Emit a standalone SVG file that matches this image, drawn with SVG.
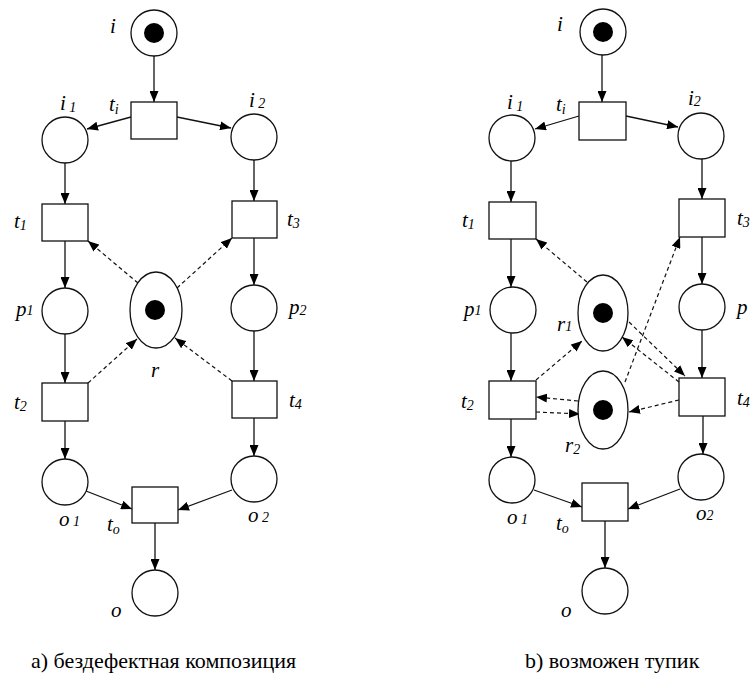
<svg xmlns="http://www.w3.org/2000/svg" width="751" height="680" viewBox="0 0 751 680">
<defs>
<marker id="ah" markerUnits="userSpaceOnUse" markerWidth="11" markerHeight="9" refX="11" refY="4.5" orient="auto" viewBox="0 0 11 9">
<path d="M0,0 L11,4.5 L0,9 z" fill="#000"/>
</marker>
</defs>
<rect width="751" height="680" fill="#fff"/>
<g id="conn-a" stroke="#111" stroke-width="1.3" fill="none" marker-end="url(#ah)">
<line x1="154" y1="56" x2="154" y2="102"/>
<line x1="131" y1="117" x2="87" y2="129"/>
<line x1="177" y1="117" x2="231" y2="128"/>
<line x1="65" y1="163" x2="65" y2="204"/>
<line x1="254" y1="160" x2="254" y2="201"/>
<line x1="65" y1="241" x2="65" y2="288"/>
<line x1="254" y1="238" x2="254" y2="285"/>
<line x1="65" y1="334" x2="65" y2="383"/>
<line x1="254" y1="331" x2="254" y2="381"/>
<line x1="65" y1="421" x2="65" y2="459"/>
<line x1="254" y1="418" x2="254" y2="456"/>
<line x1="86" y1="491" x2="132" y2="509"/>
<line x1="232" y1="490" x2="178" y2="510"/>
<line x1="155" y1="523" x2="155" y2="570"/>
<g stroke-width="1.2" stroke-dasharray="4 3">
<line x1="138" y1="283" x2="88" y2="241"/>
<line x1="177" y1="288" x2="232" y2="238"/>
<line x1="88" y1="383" x2="137" y2="339"/>
<line x1="232" y1="381" x2="175" y2="338"/>
</g>
</g>
<g id="conn-b" stroke="#111" stroke-width="1.3" fill="none" marker-end="url(#ah)">
<line x1="602" y1="55" x2="602" y2="102"/>
<line x1="579" y1="116" x2="535" y2="129"/>
<line x1="626" y1="116" x2="678" y2="127"/>
<line x1="511" y1="161" x2="511" y2="202"/>
<line x1="702" y1="159" x2="702" y2="199"/>
<line x1="511" y1="239" x2="511" y2="287"/>
<line x1="702" y1="237" x2="702" y2="284"/>
<line x1="511" y1="333" x2="511" y2="381"/>
<line x1="702" y1="330" x2="702" y2="378"/>
<line x1="511" y1="419" x2="511" y2="457"/>
<line x1="703" y1="416" x2="703" y2="454"/>
<line x1="534" y1="490" x2="582" y2="507"/>
<line x1="680" y1="489" x2="628" y2="509"/>
<line x1="605" y1="521" x2="605" y2="568"/>
<g stroke-width="1.2" stroke-dasharray="4 3">
<line x1="587" y1="282" x2="536" y2="239"/>
<line x1="625" y1="382" x2="680" y2="237"/>
<line x1="536" y1="380" x2="582" y2="341"/>
<line x1="629" y1="322" x2="685" y2="376"/>
<line x1="679" y1="382" x2="622" y2="337"/>
<line x1="578" y1="401" x2="536" y2="397"/>
<line x1="536" y1="412" x2="580" y2="414"/>
<line x1="679" y1="400" x2="629" y2="412"/>
</g>
</g>
<g fill="#fff" stroke="#111" stroke-width="1.3" font-family="Liberation Serif" font-style="italic" font-size="21">
<g id="a-i"><circle cx="154" cy="33" r="23"/><circle cx="154" cy="33" r="10" fill="#000" stroke="none"/><text x="110" y="33" fill="#000" stroke="none">i</text></g>
<g id="a-ti"><rect x="131" y="102" width="46" height="37"/><text x="109" y="111" fill="#000" stroke="none">t<tspan font-size="14" dy="3">i</tspan></text></g>
<g id="a-i1"><circle cx="65" cy="140" r="23"/><text x="60" y="110" fill="#000" stroke="none">i<tspan font-size="14" dy="2"> 1</tspan></text></g>
<g id="a-i2"><circle cx="254" cy="137" r="23"/><text x="249" y="107" fill="#000" stroke="none">i<tspan font-size="14" dy="1"> 2</tspan></text></g>
<g id="a-t1"><rect x="42" y="204" width="46" height="37"/><text x="14" y="228" fill="#000" stroke="none">t<tspan font-size="14" dy="2">1</tspan></text></g>
<g id="a-t3"><rect x="232" y="201" width="45" height="37"/><text x="287" y="226" fill="#000" stroke="none">t<tspan font-size="14" dy="2">3</tspan></text></g>
<g id="a-p1"><circle cx="65" cy="311" r="23"/><text x="16" y="316" fill="#000" stroke="none">p<tspan font-size="14" dy="-1">1</tspan></text></g>
<g id="a-r"><ellipse cx="156" cy="310" rx="26" ry="38"/><circle cx="155" cy="310" r="10" fill="#000" stroke="none"/><text x="151" y="377" fill="#000" stroke="none">r</text></g>
<g id="a-p2"><circle cx="254" cy="308" r="23"/><text x="289" y="314" fill="#000" stroke="none">p<tspan font-size="14" dy="1">2</tspan></text></g>
<g id="a-t2"><rect x="42" y="383" width="46" height="38"/><text x="14" y="409" fill="#000" stroke="none">t<tspan font-size="14" dy="2">2</tspan></text></g>
<g id="a-t4"><rect x="232" y="381" width="45" height="37"/><text x="289" y="407" fill="#000" stroke="none">t<tspan font-size="14" dy="2">4</tspan></text></g>
<g id="a-o1"><circle cx="65" cy="482" r="23"/><text x="59" y="526" fill="#000" stroke="none">o<tspan font-size="14"> 1</tspan></text></g>
<g id="a-o2"><circle cx="254" cy="479" r="23"/><text x="248" y="522" fill="#000" stroke="none">o<tspan font-size="14"> 2</tspan></text></g>
<g id="a-to"><rect x="132" y="487" width="46" height="36"/><text x="107" y="531" fill="#000" stroke="none">t<tspan font-size="14" dy="3">o</tspan></text></g>
<g id="a-o"><circle cx="155" cy="593" r="23"/><text x="111" y="617" fill="#000" stroke="none">o</text></g>
<g id="b-i"><circle cx="603" cy="32" r="23"/><circle cx="603" cy="32" r="10" fill="#000" stroke="none"/><text x="557" y="31" fill="#000" stroke="none">i</text></g>
<g id="b-ti"><rect x="579" y="102" width="47" height="38"/><text x="556" y="111" fill="#000" stroke="none">t<tspan font-size="14" dy="3">i</tspan></text></g>
<g id="b-i1"><circle cx="512" cy="138" r="23"/><text x="507" y="109" fill="#000" stroke="none">i<tspan font-size="14" dy="2"> 1</tspan></text></g>
<g id="b-i2"><circle cx="701" cy="136" r="23"/><text x="688" y="105" fill="#000" stroke="none">i<tspan font-size="14" dy="1">2</tspan></text></g>
<g id="b-t1"><rect x="489" y="202" width="47" height="37"/><text x="462" y="227" fill="#000" stroke="none">t<tspan font-size="14" dy="2">1</tspan></text></g>
<g id="b-t3"><rect x="679" y="199" width="46" height="38"/><text x="737" y="225" fill="#000" stroke="none">t<tspan font-size="14" dy="2">3</tspan></text></g>
<g id="b-p1"><circle cx="513" cy="310" r="23"/><text x="464" y="316" fill="#000" stroke="none">p<tspan font-size="14" dy="-1">1</tspan></text></g>
<g id="b-r1"><ellipse cx="603" cy="313" rx="25" ry="38"/><circle cx="603" cy="313" r="10" fill="#000" stroke="none"/><text x="557" y="331" fill="#000" stroke="none">r<tspan font-size="14">1</tspan></text></g>
<g id="b-p2"><circle cx="702" cy="307" r="23"/><text x="737" y="314" fill="#000" stroke="none">p</text></g>
<g id="b-t2"><rect x="489" y="381" width="47" height="38"/><text x="461" y="408" fill="#000" stroke="none">t<tspan font-size="14" dy="2">2</tspan></text></g>
<g id="b-r2"><ellipse cx="603" cy="410" rx="25" ry="39"/><circle cx="603" cy="410" r="10" fill="#000" stroke="none"/><text x="565" y="452" fill="#000" stroke="none">r<tspan font-size="14" dy="2">2</tspan></text></g>
<g id="b-t4"><rect x="679" y="378" width="46" height="38"/><text x="737" y="405" fill="#000" stroke="none">t<tspan font-size="14" dy="2">4</tspan></text></g>
<g id="b-o1"><circle cx="512" cy="480" r="23"/><text x="507" y="524" fill="#000" stroke="none">o<tspan font-size="14"> 1</tspan></text></g>
<g id="b-o2"><circle cx="701" cy="477" r="23"/><text x="696" y="520" fill="#000" stroke="none">o<tspan font-size="14">2</tspan></text></g>
<g id="b-to"><rect x="582" y="483" width="46" height="38"/><text x="556" y="530" fill="#000" stroke="none">t<tspan font-size="14" dy="3">o</tspan></text></g>
<g id="b-o"><circle cx="605" cy="591" r="23"/><text x="561" y="617" fill="#000" stroke="none">o</text></g>
</g>
<text x="31" y="668" font-family="Liberation Serif" font-size="22" fill="#000">а) бездефектная композиция</text>
<text x="525" y="668" font-family="Liberation Serif" font-size="22" fill="#000">b) возможен тупик</text>
</svg>
